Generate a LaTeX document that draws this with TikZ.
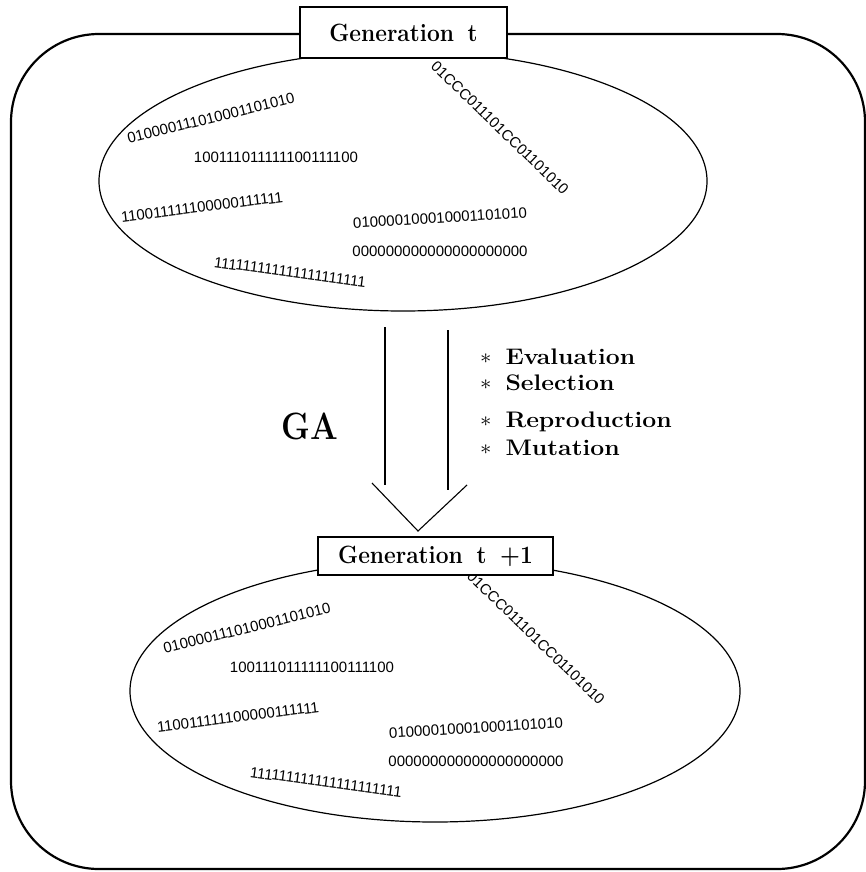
\documentclass[tikz,border=0pt]{standalone}
\usepackage{fontspec}
\usetikzlibrary{shapes.geometric}
\newfontfamily\bitfont{Liberation Sans}
% the set of bit strings held by one population
\newcommand\popstrings{%
  \node[bits, rotate=14]   (s1) at (211,118) {010000111010001101010};
  \node[bits]              (s2) at (276,157) {100111011111100111100};
  \node[bits, rotate=7]    (s3) at (202,207) {110011111100000111111};
  \node[bits, rotate=3.5]  (s4) at (440,218) {010000100010001101010};
  \node[bits]              (s5) at (440,251) {000000000000000000000};
  \node[bits, rotate=-7.5] (s6) at (290,272) {111111111111111111111};
  \node[bits, rotate=-44]  (s7) at (500,128) {01CCC011101CC01101010};
}
\begin{document}
\begin{tikzpicture}[x=1pt, y=-1pt,
  frame/.style={draw, line width=2.2pt, rounded corners=88pt, inner sep=0,
                minimum width=854pt, minimum height=835pt},
  pool/.style={draw, ellipse, line width=1.2pt, inner sep=0},
  genbox/.style={draw, fill=white, line width=1.3pt, inner sep=0,
                 font=\bfseries\fontsize{25}{30}\selectfont},
  bits/.style={inner sep=0, font=\bitfont\fontsize{15}{17}\selectfont},
  op/.style={inner sep=0, anchor=base west, font=\bfseries\fontsize{22.5}{26}\selectfont},
  shaft/.style={line width=1.1pt},
]
\useasboundingbox (0,0) rectangle (866,872);

% outer frame
\node[frame] (frame) at (438,451.5) {};

% the two populations
\node[pool, minimum width=608pt, minimum height=260pt] (popA) at (403,181) {};
\node[pool, minimum width=610pt, minimum height=262pt] (popB) at (435,691) {};

\begin{scope}[name prefix=a-]
  \popstrings
\end{scope}
\begin{scope}[name prefix=b-, shift={(36,510)}]
  \popstrings
\end{scope}

% generation labels
\node[genbox, minimum width=207pt, minimum height=51pt] (genA) at (403.5,32.5)
  {\scalebox{0.91}[1]{Generation\hspace{0.6em}t}};
\node[genbox, minimum width=235pt, minimum height=38pt] (genB) at (435.5,556)
  {\scalebox{0.91}[1]{Generation\hspace{0.6em}t\hspace{0.6em}+1}};

% the big open arrow between generations
\coordinate (sL0) at (385,327);
\coordinate (sL1) at (385,485);
\coordinate (sR0) at (448,330);
\coordinate (sR1) at (448,490);
\coordinate (hL)  at (372,483);
\coordinate (tip) at (418,531);
\coordinate (hR)  at (467,485);
\draw[shaft] (sL0) -- (sL1);
\draw[shaft] (sR0) -- (sR1);
\draw[shaft] (hL) -- (tip) -- (hR);

\node[inner sep=0, font=\bfseries\fontsize{38}{40}\selectfont] (ga) at (310,426)
  {\scalebox{0.86}[1]{GA}};

% GA operators
\newcommand\opline[1]{\scalebox{1.1}[1]{\makebox[23pt][l]{\raisebox{1pt}{\fontsize{20}{20}\selectfont$\ast$}}#1}}
\node[op] (ev)  at (480,364) {\opline{Evaluation}};
\node[op] (sel) at (480,390) {\opline{Selection}};
\node[op] (rep) at (480,427) {\opline{Reproduction}};
\node[op] (mut) at (480,455) {\opline{Mutation}};
\end{tikzpicture}
\end{document}
